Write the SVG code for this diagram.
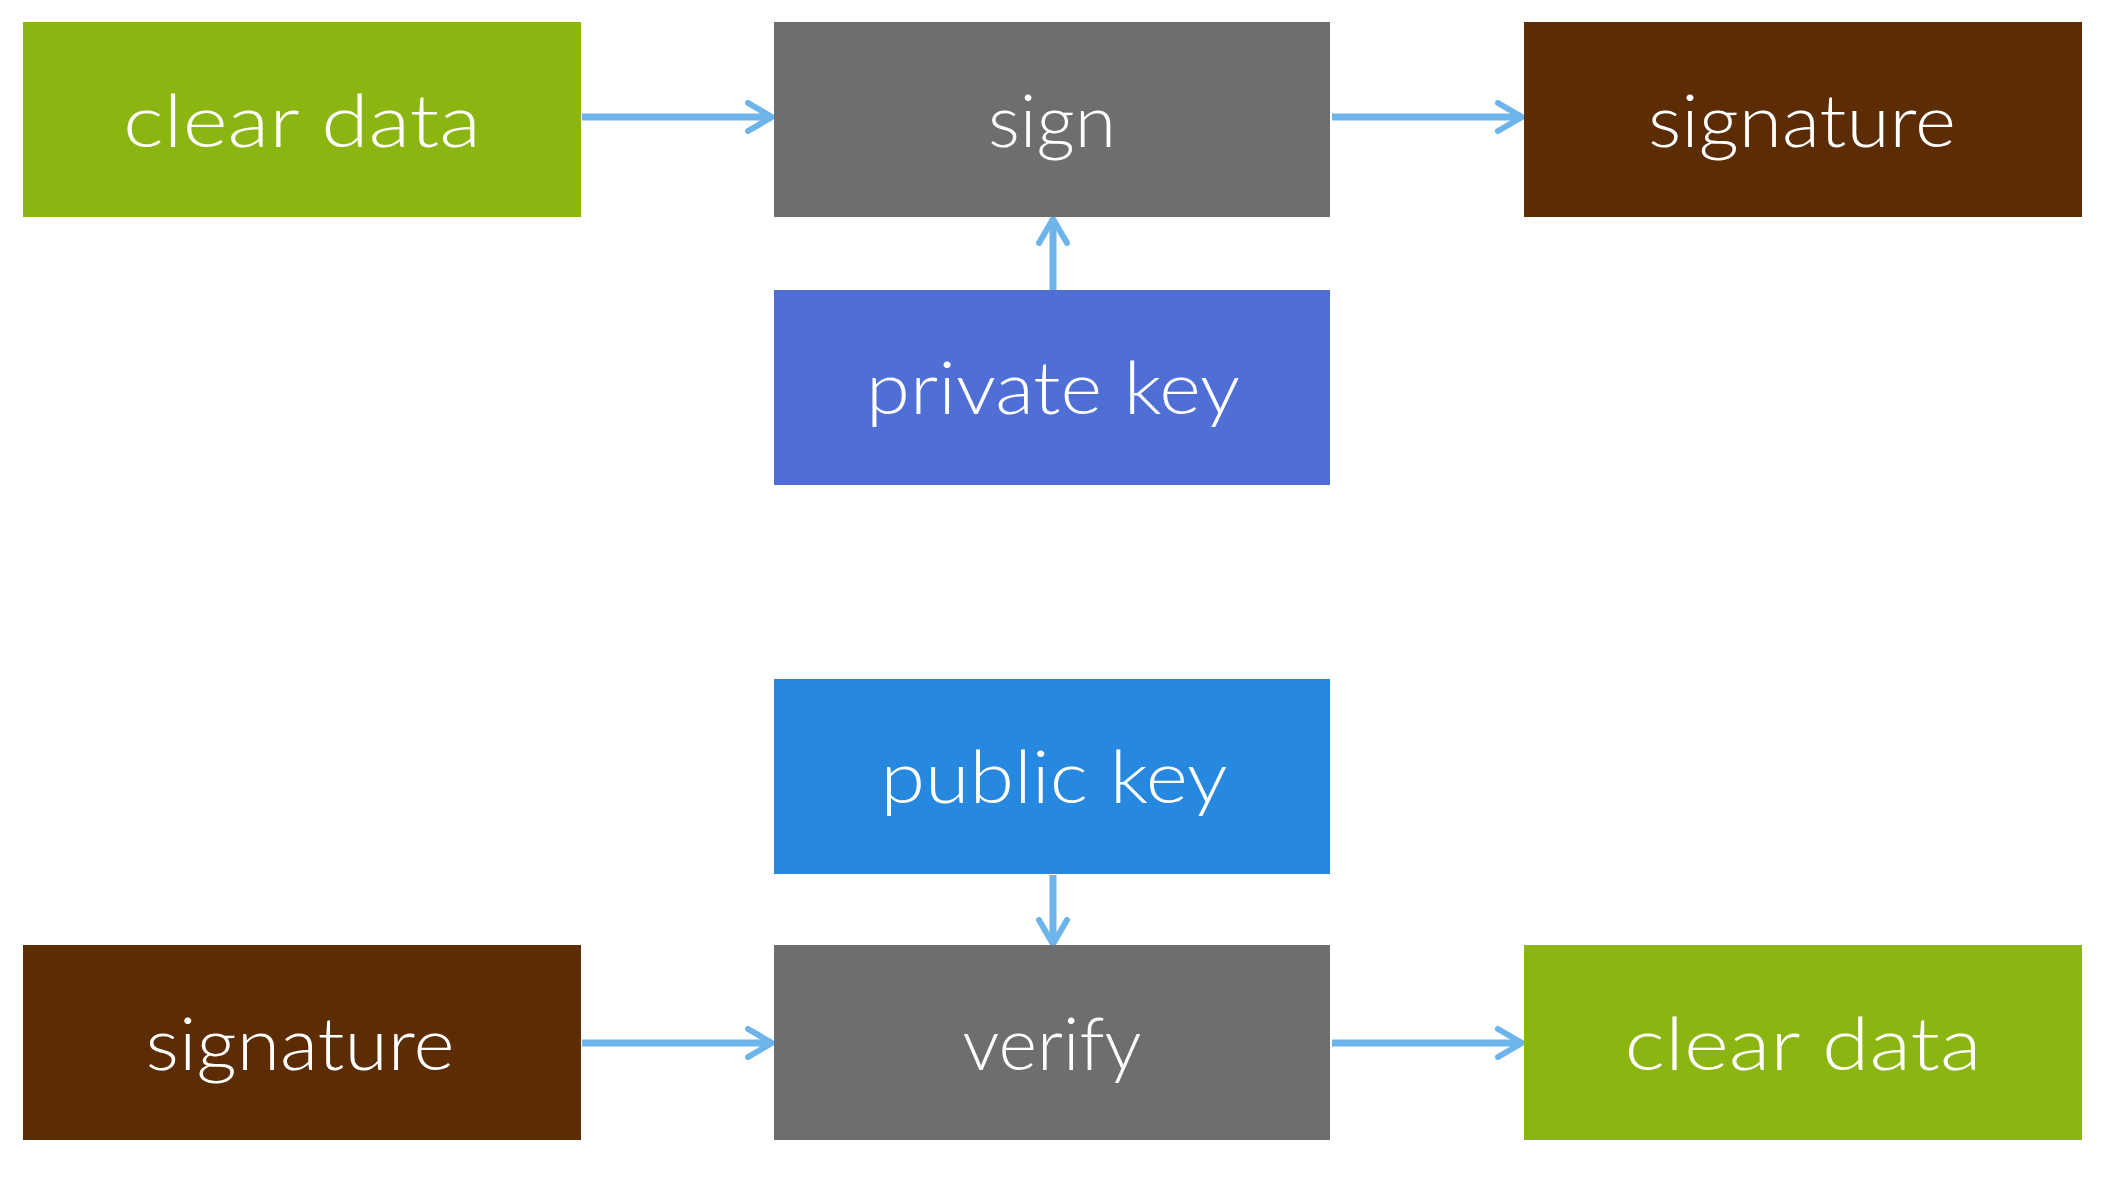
<svg xmlns="http://www.w3.org/2000/svg" width="2106" height="1184" viewBox="0 0 2106 1184">
<defs>
<style>
.lbl{font-family:Lato,"Open Sans","Liberation Sans",sans-serif;font-size:72px;font-weight:300;fill:#ffffff;text-anchor:middle}
.edge{stroke:#6cb4ea;stroke-width:7;fill:none;stroke-linecap:butt}
</style>
<marker id="ah" viewBox="0 0 30 34" refX="27" refY="17" markerWidth="30" markerHeight="34" markerUnits="userSpaceOnUse" orient="auto">
<path d="M3,3 L27,17 L3,31" fill="none" stroke="#6cb4ea" stroke-width="6" stroke-linecap="round" stroke-linejoin="round"/>
</marker>
</defs>
<rect width="2106" height="1184" fill="#ffffff"/>
<g id="connectors">
<line class="edge" x1="582" y1="117" x2="772" y2="117" marker-end="url(#ah)"/>
<line class="edge" x1="1332" y1="117" x2="1522" y2="117" marker-end="url(#ah)"/>
<line class="edge" x1="1053" y1="290" x2="1053" y2="219" marker-end="url(#ah)"/>
<line class="edge" x1="1053" y1="875" x2="1053" y2="944" marker-end="url(#ah)"/>
<line class="edge" x1="582" y1="1043" x2="772" y2="1043" marker-end="url(#ah)"/>
<line class="edge" x1="1332" y1="1043" x2="1522" y2="1043" marker-end="url(#ah)"/>
</g>
<g id="clear-data-top">
<rect x="23" y="22" width="558" height="195" fill="#8bb612"/>
<text class="lbl" x="302" y="147" textLength="358" lengthAdjust="spacingAndGlyphs">clear data</text>
</g>
<g id="sign">
<rect x="774" y="22" width="556" height="195" fill="#6e6e6e"/>
<text class="lbl" x="1052" y="147" textLength="128" lengthAdjust="spacingAndGlyphs">sign</text>
</g>
<g id="signature-top">
<rect x="1524" y="22" width="558" height="195" fill="#5c2d05"/>
<text class="lbl" x="1802" y="147" textLength="308" lengthAdjust="spacingAndGlyphs">signature</text>
</g>
<g id="private-key">
<rect x="774" y="290" width="556" height="195" fill="#4f6fd6"/>
<text class="lbl" x="1053" y="414" textLength="374" lengthAdjust="spacingAndGlyphs">private key</text>
</g>
<g id="public-key">
<rect x="774" y="679" width="556" height="195" fill="#2688de"/>
<text class="lbl" x="1054" y="803" textLength="347" lengthAdjust="spacingAndGlyphs">public key</text>
</g>
<g id="signature-bottom">
<rect x="23" y="945" width="558" height="195" fill="#5c2d05"/>
<text class="lbl" x="300" y="1070" textLength="309" lengthAdjust="spacingAndGlyphs">signature</text>
</g>
<g id="verify">
<rect x="774" y="945" width="556" height="195" fill="#6e6e6e"/>
<text class="lbl" x="1052" y="1070" textLength="179" lengthAdjust="spacingAndGlyphs">verify</text>
</g>
<g id="clear-data-bottom">
<rect x="1524" y="945" width="558" height="195" fill="#8bb612"/>
<text class="lbl" x="1803" y="1070" textLength="357" lengthAdjust="spacingAndGlyphs">clear data</text>
</g>
</svg>
